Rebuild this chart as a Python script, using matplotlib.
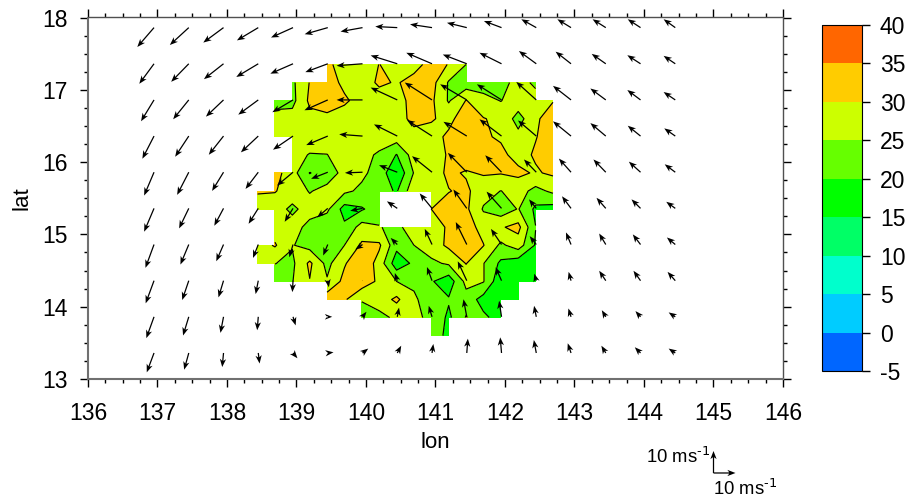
import numpy as np
import matplotlib
matplotlib.use("Agg")
import matplotlib.pyplot as plt
from matplotlib.colors import ListedColormap, BoundaryNorm

plt.rcParams['font.family'] = ['Liberation Sans', 'DejaVu Sans']
plt.rcParams['mathtext.default'] = 'regular'
plt.rcParams['axes.unicode_minus'] = False

n = np.nan

# Surface speed on the 0.25 degree grid, north to south
speed = [
    [n, n, n, n, 31, 28, 27, 30.1, 28, 28, 32, 29.8, 25, n, n, n, n, n],
    [n, n, 24, 30.2, 33, 28.5, 27, 31, 29.5, 32, 32, 24.5, 22, 22, 23, 27, 24, n],
    [n, 24, 23.5, 31, 34, 31, 27.5, 27, 26.5, 33, 31, 24.5, 30.2, 27, 24.8, 28, 27, 29.7],
    [n, 26, 27, 28.5, 28, 27, 27.5, 27.5, 27, 32, 30.5, 28.5, 33, 30.2, 29, 23, 29, 33],
    [n, 27, 27.5, 28, 27.5, 28, 27.5, 27.5, 27.5, 27.5, 28, 31, 33, 30.5, 29.5, 26.5, 29.8, 32],
    [n, n, 27, 24.7, 24.9, 27.5, 26.5, 24.3, 19.8, 27.5, 27.5, 30.5, 33, 32, 31, 28.5, 30.5, 33],
    [n, 32, 27, 19.8, 22.5, 26.5, 26, 23, 15.5, 25.3, 27.5, 31, 29.5, 30.5, 30.3, 31, 29.5, 30.8],
    [30.5, 30.3, 27.5, 24.7, 26.5, 26, 24, 22, 19.5, 28.5, 28.5, 29.8, 31, 27, 24.9, 27, 23.5, 26],
    [27.5, 27, 24, 27, 26, 18, 19.5, 22.5, n, n, 30, 32, 31, 24.5, 22, 25.3, 19, 18],
    [n, 27.5, 27, 23.5, 21.5, 21, 27, 25.3, 23.5, 28, 26.5, 31, 32.5, 28, 29.5, 31.5, 20.1, n],
    [27.5, 30.5, 25.3, 23, 23, 25, 30.8, 30.8, 21.5, 25, 27.5, 31, 33, 30.2, 24, 27.5, 19.5, n],
    [27.5, 25.1, 24, 31, 23.5, 29.5, 34, 28, 17, 21, 24, 25.7, 30.2, 25.2, 19, 17, 17.5, n],
    [n, 23, 24.8, 29.8, 25.5, 31.5, 33, 29, 25, 24.3, 20.5, 17, 26.5, 25.3, 16, 16.5, 17, n],
    [n, n, n, n, 33, 30.7, 25.3, 27.5, 31, 25.6, 23, 20.5, 23, 18, 16, 17, n, n],
    [n, n, n, n, n, n, 23, 23.5, 26, 26, 24, 19, 25.3, 21, 18, n, n, n],
    [n, n, n, n, n, n, n, n, n, n, 24, 18, n, n, n, n, n, n],
]
lon_grid = 138.44 + 0.25 * np.arange(18)
lat_grid = 17.35 - 0.25 * np.arange(16)

# Wind vectors (m/s), north to south
u_wind = [
    [-7.6, -8.6, -9.2, -9.7, -10, -10.5, -10, -10, -10, -9, -8, -6.8, -6.2, -6, -5.8, -5.3],
    [-6.7, -8, -8.9, -10, -10.3, -10.2, -11.8, -12.1, -11.7, -10.9, -10, -7.9, -7, -6.4, -6, -5.3],
    [-5.9, -7.1, -8, -9.1, -9.4, -10.6, -11.8, -12.1, -12.4, -12.1, -11.2, -9.1, -8.2, -7, -6, -5.3],
    [-5.3, -6.2, -6.7, -7.9, -9.1, -9.8, -10.6, -10.6, -11.4, -10.6, -10, -8.3, -8.2, -7, -5.8, -5],
    [-4.5, -5.3, -5.2, -5.8, -7.3, -7.6, -8, -8.3, -9.1, -8.6, -7.4, -5.6, -5.5, -5.6, -5.3, -4.8],
    [-4.5, -4.4, -4.2, -4.4, -3.8, -4.8, -5.6, -4.7, -5.6, -6.1, -6.8, -3.3, -4.1, -4.2, -4.1, -4.1],
    [-3.9, -3.8, -3.3, -2.4, -1.7, -2.1, -3.3, -3, -3.3, -5, -4.8, -3, -2.3, -3, -3.5, -3.8],
    [-3.8, -3, -2.3, -1.2, -0.3, 0.5, 0.1, -1.1, -2.3, -4.1, -2.7, -0.9, -1.1, -3, -3.2, -3.5],
    [-3.5, -2.6, -1.4, -0.5, 1.2, 2, 1.8, 0.8, -1.5, -1.5, -1.1, -1, -1.2, -1.8, -2.3, -3],
    [-3.3, -2.1, -0.6, 0.6, 2, 2.6, 2.6, 1.8, 0.6, 0.5, -0.6, -1.1, -1.5, -2, -2.6, -3],
]
v_wind = [
    [-8.8, -7.9, -6.8, -5.8, -4.5, -3, -1.8, 0.5, 1.5, 2.2, 3, 3.8, 3.8, 3.8, 3.8, 3.8],
    [-9.1, -8.2, -7, -6, -4.5, -3.8, -0.9, 3.8, 5, 4.2, 5, 5.8, 5.5, 4.5, 3.9, 3.6],
    [-9.7, -8.8, -7.6, -6.7, -5.6, -4.7, 0, 5.6, 7.9, 7.1, 7.1, 8.2, 6.4, 5.2, 4.5, 3.6],
    [-10.3, -9.4, -8.5, -7.4, -6.2, -4.1, 0.8, 5.3, 7.3, 6.5, 7.6, 7.1, 6.7, 5.9, 4.7, 3.5],
    [-10.6, -10.3, -8.5, -7.6, -6.1, -3, -0.3, 3.2, 7.3, 8.8, 7.7, 5.8, 6.2, 5.8, 4.8, 3.6],
    [-10.6, -9.1, -7.9, -7, -6.1, -4.1, -1.1, 3.2, 6.8, 8.6, 7.6, 4.1, 5.5, 4.8, 4.1, 3],
    [-10.6, -9.1, -7.6, -6.1, -5.8, -5, -2.3, 3, 7.1, 10.2, 7.1, 3.8, 5.5, 5, 4.6, 3.2],
    [-10.3, -8.8, -7.6, -6.1, -5.2, -3, 0.2, 3.5, 6.2, 8.8, 6.1, 3.2, 4, 4.5, 4.5, 4],
    [-9.7, -8.5, -7.3, -6.1, -3.9, 0, 2.3, 4.2, 5, 8, 7.3, 5, 3.8, 3, 2.6, 2],
    [-8.8, -7.6, -6.4, -4.8, -2.4, 0.3, 2, 3.3, 4.1, 6.5, 7.1, 5.9, 4.4, 3.3, 2.6, 2],
]
lon_wind = 136.95 + 0.5 * np.arange(16)
lat_wind = 17.86 - 0.5 * np.arange(10)

levels = np.arange(-5, 45, 5)
colors = ['#0066ff', '#00ccff', '#00ffcc', '#00ff66', '#00ff00',
          '#66ff00', '#ccff00', '#ffcc00', '#ff6600']

fig = plt.figure(figsize=(9.1, 4.98), dpi=100)
ax = fig.add_axes([88 / 910, 1 - 379 / 498, 695 / 910, 361.5 / 498])

cmap = ListedColormap(colors)
norm = BoundaryNorm(levels, cmap.N)
z = np.ma.masked_invalid(np.array(speed))
# corner_mask off gives the stepped edge of the data area
cf = ax.contourf(lon_grid, lat_grid, z, levels=levels, cmap=cmap, norm=norm, corner_mask=False)
ax.contour(lon_grid, lat_grid, z, levels=levels, colors='black', linewidths=0.85,
           linestyles='solid', corner_mask=False)

# Arrows: 2.2 pixels per m/s, tail on the grid point
quiver_style = dict(angles='uv', units='dots', scale_units='dots', scale=1 / 2.2, width=1.25,
                    headwidth=5, headlength=6.5, headaxislength=5, minshaft=0.6, minlength=0.2,
                    pivot='tail', color='black')
lon2d, lat2d = np.meshgrid(lon_wind, lat_wind)
ax.quiver(lon2d, lat2d, np.array(u_wind), np.array(v_wind), zorder=5, **quiver_style)

# Reference vectors under the axes
ax.quiver([145.0, 145.0], [11.7, 11.7], [10, 0], [0, 10], zorder=5, clip_on=False, **quiver_style)
ax.text(144.95, 11.78, r'10 ms$^{\text{-1}}$', fontsize=13.3, ha='right', va='bottom', clip_on=False)
ax.text(145.0, 11.62, r'10 ms$^{\text{-1}}$', fontsize=13.3, ha='left', va='top', clip_on=False)

ax.set_xlim(136, 146)
ax.set_ylim(13, 18)
ax.set_xticks(np.arange(136, 147))
ax.set_yticks(np.arange(13, 19))
ax.set_xticks(np.arange(136, 146.01, 0.25), minor=True)
ax.set_yticks(np.arange(13, 18.01, 0.25), minor=True)
ax.tick_params(which='major', direction='out', length=5.8, width=1, top=True, right=True,
               labelsize=16.5)
ax.tick_params(which='minor', direction='out', length=2.8, width=1, top=True, right=True)
ax.tick_params(axis='x', which='major', pad=10.5)
ax.tick_params(axis='y', which='major', pad=9)
ax.set_xlabel('lon', fontsize=16, labelpad=5)
ax.set_ylabel('lat', fontsize=16, labelpad=6.5)

for side in ['left', 'bottom']:
    ax.spines[side].set_linewidth(1.5)
    ax.spines[side].set_color('#707070')
for side in ['top', 'right']:
    ax.spines[side].set_linewidth(1)
    ax.spines[side].set_color('#505050')

cax = fig.add_axes([822 / 910, 1 - 371 / 498, 39.5 / 910, 346 / 498])
cb = fig.colorbar(cf, cax=cax, ticks=levels)
cb.ax.tick_params(length=5.8, width=1, labelsize=16.5, pad=7.5, direction='out')
cb.ax.minorticks_off()
cb.outline.set_linewidth(0.8)
cax.axvline(0, color='#707070', linewidth=1.5)

fig.savefig('out.png', dpi=100)
